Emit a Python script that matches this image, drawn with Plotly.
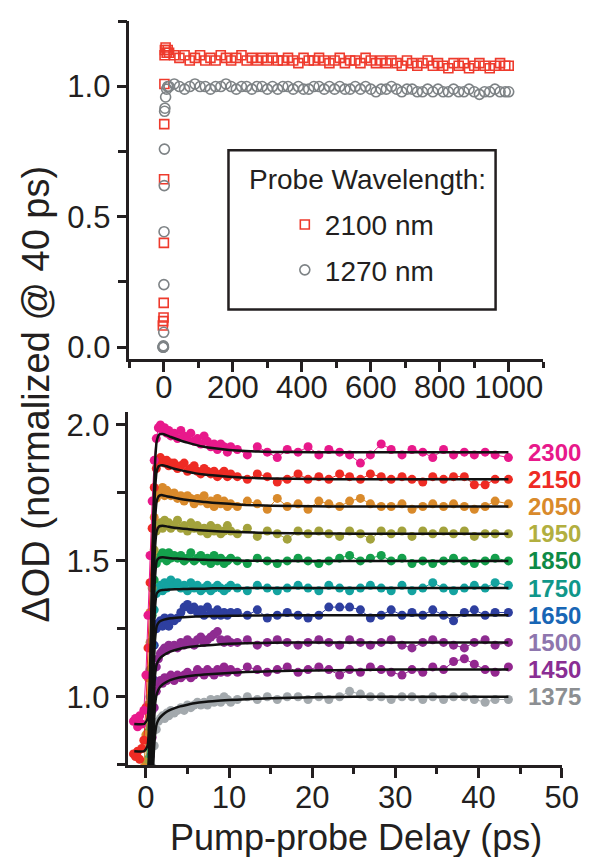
import plotly.graph_objects as go

FONT = "Liberation Sans, Arial, Helvetica, sans-serif"
INK = "#231F20"
OFF = 8                      # default page margin around the figure
W, H = 608 - 2 * OFF, 865 - 2 * OFF


def px(x):
    return (x - OFF) / W


def py(y):
    return 1 - (y - OFF) / H


# ---------------- top panel data (probe 2100 nm / 1270 nm, 0-1000 ps) ----------------
T_2100 = [-3, -2, -1, -0.5, 0, 0.5, 1, 1.5, 2, 3, 5, 8, 11,
          15, 30, 45, 60, 75, 90, 105, 120, 135, 150, 165, 180, 195, 210, 225, 240, 255, 270,
          285, 300, 315, 330, 345, 360, 375, 390, 405, 420, 435, 450, 465, 480, 495, 510, 525,
          540, 555, 570, 585, 600, 615, 630, 645, 660, 675, 690, 705, 720, 735, 750, 765, 780,
          795, 810, 825, 840, 855, 870, 885, 900, 915, 930, 945, 960, 975, 990, 1000]
V_2100 = [0.083, 0.10, 0.114, 0.17, 0.40, 0.644, 0.856, 1.01, 1.12, 1.14, 1.15, 1.13, 1.14,
          1.13, 1.12, 1.11, 1.12, 1.10, 1.11, 1.12, 1.10, 1.11, 1.10,
          1.12, 1.11, 1.10, 1.11, 1.12, 1.10, 1.11, 1.10, 1.11, 1.10,
          1.11, 1.10, 1.10, 1.11, 1.10, 1.09, 1.11, 1.10, 1.10, 1.11,
          1.10, 1.09, 1.10, 1.11, 1.09, 1.10, 1.10, 1.09, 1.11, 1.10,
          1.09, 1.10, 1.09, 1.10, 1.09, 1.08, 1.10, 1.09, 1.08, 1.09,
          1.10, 1.08, 1.09, 1.08, 1.07, 1.09, 1.08, 1.09, 1.07, 1.08,
          1.09, 1.08, 1.07, 1.08, 1.09, 1.08, 1.08]
T_1270 = [-3, -2, -1.5, -1, -0.5, 0, 0.5, 1, 1.5, 2, 3, 5, 8, 11,
          15, 30, 45, 60, 75, 90, 105, 120, 135, 150, 165, 180, 195, 210, 225, 240, 255, 270,
          285, 300, 315, 330, 345, 360, 375, 390, 405, 420, 435, 450, 465, 480, 495, 510, 525,
          540, 555, 570, 585, 600, 615, 630, 645, 660, 675, 690, 705, 720, 735, 750, 765, 780,
          795, 810, 825, 840, 855, 870, 885, 900, 915, 930, 945, 960, 975, 990, 1000]
V_1270 = [0.0, 0.0, 0.005, 0.0, 0.057, 0.24, 0.443, 0.62, 0.76, 0.905, 0.917, 0.96, 0.99, 1.00,
          1.00, 1.01, 1.00, 0.99, 1.00, 1.01, 1.00, 1.00, 0.99, 1.00,
          1.00, 1.01, 1.00, 0.99, 1.00, 1.00, 0.99, 1.00, 1.00, 0.99,
          1.00, 0.99, 1.00, 1.00, 0.99, 1.00, 0.99, 0.99, 1.00, 1.00,
          0.99, 1.00, 0.99, 1.00, 0.99, 0.99, 1.00, 0.99, 1.00, 0.99,
          0.98, 0.99, 0.99, 1.00, 0.99, 0.98, 0.99, 0.99, 0.98, 0.98,
          0.99, 0.98, 0.99, 0.98, 0.98, 0.99, 0.98, 0.98, 0.99, 0.98,
          0.97, 0.98, 0.98, 0.99, 0.98, 0.98, 0.98]

# ---------------- bottom panel data (offset kinetics, 0-44 ps) ----------------
T_DELAY = [-1.5, -1.25, -1.0, -0.75, -0.5, -0.25, 0.0, 0.25, 0.5, 0.75, 1.0, 1.25, 1.5, 1.75,
           2.0, 2.25, 2.5, 2.75, 3.0,
           3.4, 3.8, 4.2, 4.6, 5.0, 5.4, 5.8, 6.2, 6.6, 7.0, 7.4, 7.8, 8.2, 8.6, 9.0, 9.4, 9.8, 10.2,
           11.0, 12.2, 13.4, 14.6, 15.8, 17.0, 18.3, 19.5, 20.8, 22.0, 23.3, 24.5, 25.8, 27.0,
           28.3, 29.5, 30.8, 32.0, 33.3, 34.5, 35.8, 37.0, 38.3, 39.5, 40.8, 42.0, 43.6]

OD_2300 = [0.91, 0.92, 0.89, 0.93, 0.90, 0.95, 1.08, 1.30, 1.52, 1.72, 1.87, 1.95, 1.99, 2.00, 1.98, 1.99, 1.97, 1.98, 1.96,
           1.97, 1.95, 1.98, 1.96, 1.95, 1.97, 1.94, 1.95, 1.93, 1.96, 1.94, 1.92, 1.93, 1.91, 1.93, 1.92, 1.90, 1.92,
           1.91, 1.89, 1.92, 1.90, 1.88, 1.91, 1.90, 1.92, 1.89, 1.91, 1.90, 1.89, 1.86, 1.89, 1.93, 1.91, 1.89, 1.91,
           1.90, 1.88, 1.91, 1.89, 1.90, 1.89, 1.90, 1.89, 1.88]
OD_2150 = [0.79, 0.78, 0.80, 0.77, 0.81, 0.84, 0.96, 1.18, 1.42, 1.62, 1.77, 1.84, 1.87, 1.88, 1.87, 1.86, 1.87, 1.85, 1.86,
           1.86, 1.84, 1.85, 1.86, 1.83, 1.84, 1.85, 1.83, 1.82, 1.84, 1.83, 1.82, 1.83, 1.81, 1.82, 1.83, 1.81, 1.82,
           1.81, 1.80, 1.82, 1.81, 1.79, 1.80, 1.82, 1.80, 1.81, 1.80, 1.82, 1.81, 1.80, 1.82, 1.81, 1.80, 1.81, 1.80,
           1.79, 1.81, 1.80, 1.81, 1.81, 1.78, 1.78, 1.80, 1.80]
OD_2050 = [0.70, 0.70, 0.70, 0.70, 0.71, 0.74, 0.86, 1.07, 1.31, 1.52, 1.66, 1.73, 1.76, 1.75, 1.77, 1.74, 1.76, 1.75, 1.74,
           1.75, 1.73, 1.74, 1.72, 1.74, 1.73, 1.71, 1.73, 1.72, 1.74, 1.71, 1.72, 1.70, 1.73, 1.71, 1.72, 1.70, 1.71,
           1.70, 1.72, 1.71, 1.69, 1.73, 1.70, 1.71, 1.69, 1.72, 1.71, 1.70, 1.72, 1.73, 1.71, 1.70, 1.70, 1.71, 1.69,
           1.70, 1.71, 1.70, 1.71, 1.70, 1.69, 1.70, 1.72, 1.71]
OD_1950 = [0.60, 0.60, 0.60, 0.60, 0.61, 0.64, 0.76, 0.97, 1.20, 1.40, 1.54, 1.61, 1.63, 1.64, 1.62, 1.65, 1.63, 1.64, 1.62,
           1.63, 1.65, 1.62, 1.63, 1.61, 1.64, 1.62, 1.63, 1.61, 1.62, 1.60, 1.63, 1.61, 1.62, 1.60, 1.61, 1.63, 1.61,
           1.60, 1.62, 1.59, 1.61, 1.60, 1.58, 1.61, 1.60, 1.61, 1.60, 1.59, 1.61, 1.60, 1.58, 1.61, 1.60, 1.61, 1.59,
           1.61, 1.60, 1.61, 1.60, 1.61, 1.59, 1.60, 1.60, 1.60]
OD_1850 = [0.50, 0.50, 0.50, 0.50, 0.51, 0.54, 0.66, 0.87, 1.10, 1.30, 1.43, 1.49, 1.52, 1.51, 1.53, 1.52, 1.50, 1.53, 1.51,
           1.52, 1.51, 1.52, 1.50, 1.51, 1.53, 1.50, 1.51, 1.52, 1.50, 1.51, 1.49, 1.52, 1.50, 1.51, 1.49, 1.50, 1.51,
           1.50, 1.49, 1.51, 1.50, 1.49, 1.50, 1.51, 1.50, 1.49, 1.50, 1.51, 1.52, 1.50, 1.51, 1.52, 1.50, 1.51, 1.49,
           1.50, 1.49, 1.50, 1.51, 1.50, 1.49, 1.50, 1.51, 1.50]
OD_1750 = [0.40, 0.40, 0.40, 0.40, 0.41, 0.44, 0.56, 0.77, 1.00, 1.19, 1.32, 1.38, 1.40, 1.41, 1.39, 1.42, 1.40, 1.41, 1.43,
           1.41, 1.42, 1.40, 1.41, 1.39, 1.42, 1.40, 1.41, 1.39, 1.40, 1.41, 1.39, 1.40, 1.41, 1.40, 1.39, 1.40, 1.41,
           1.40, 1.39, 1.41, 1.40, 1.39, 1.40, 1.41, 1.40, 1.39, 1.41, 1.40, 1.39, 1.40, 1.41, 1.40, 1.39, 1.41, 1.39,
           1.40, 1.42, 1.40, 1.39, 1.40, 1.41, 1.40, 1.42, 1.41]
OD_1650 = [0.30, 0.30, 0.30, 0.30, 0.31, 0.34, 0.46, 0.67, 0.89, 1.07, 1.19, 1.25, 1.27, 1.28, 1.26, 1.29, 1.27, 1.26, 1.29,
           1.28, 1.29, 1.31, 1.33, 1.34, 1.32, 1.33, 1.31, 1.32, 1.30, 1.33, 1.31, 1.30, 1.32, 1.30, 1.31, 1.30, 1.31,
           1.31, 1.30, 1.32, 1.29, 1.30, 1.31, 1.30, 1.29, 1.30, 1.33, 1.33, 1.33, 1.32, 1.29, 1.30, 1.32, 1.30, 1.31,
           1.30, 1.32, 1.30, 1.28, 1.31, 1.32, 1.30, 1.31, 1.31]
OD_1500 = [0.20, 0.20, 0.20, 0.20, 0.21, 0.24, 0.36, 0.57, 0.78, 0.95, 1.06, 1.11, 1.14, 1.16, 1.17, 1.18, 1.17, 1.19, 1.18,
           1.19, 1.18, 1.20, 1.19, 1.21, 1.20, 1.19, 1.21, 1.22, 1.20, 1.21, 1.22, 1.23, 1.24, 1.21, 1.20, 1.21, 1.20,
           1.20, 1.21, 1.19, 1.20, 1.21, 1.20, 1.19, 1.20, 1.21, 1.20, 1.19, 1.21, 1.20, 1.19, 1.20, 1.21, 1.19, 1.18,
           1.20, 1.21, 1.20, 1.19, 1.18, 1.20, 1.21, 1.19, 1.20]
OD_1450 = [0.10, 0.10, 0.10, 0.10, 0.11, 0.14, 0.26, 0.47, 0.68, 0.85, 0.96, 1.02, 1.05, 1.06, 1.05, 1.07, 1.06, 1.07, 1.08,
           1.06, 1.08, 1.07, 1.08, 1.09, 1.07, 1.08, 1.10, 1.09, 1.08, 1.10, 1.09, 1.08, 1.10, 1.09, 1.11, 1.09, 1.10,
           1.09, 1.11, 1.10, 1.09, 1.10, 1.11, 1.09, 1.10, 1.11, 1.10, 1.08, 1.10, 1.09, 1.11, 1.10, 1.09, 1.08, 1.10,
           1.09, 1.11, 1.10, 1.13, 1.14, 1.12, 1.10, 1.09, 1.11]
OD_1375 = [0.00, 0.00, 0.00, 0.00, 0.01, 0.04, 0.16, 0.37, 0.58, 0.74, 0.82, 0.88, 0.91, 0.92, 0.93, 0.92, 0.94, 0.93, 0.95,
           0.94, 0.95, 0.96, 0.95, 0.97, 0.96, 0.97, 0.98, 0.97, 0.98, 0.97, 0.99, 0.98, 0.99, 0.98, 1.00, 0.99, 0.98,
           0.99, 1.00, 0.99, 1.00, 0.99, 1.00, 1.00, 0.99, 1.00, 0.99, 1.00, 1.02, 1.01, 1.00, 1.00, 0.99, 1.00, 1.00,
           0.99, 1.00, 0.99, 1.00, 1.00, 0.99, 0.98, 0.99, 0.99]

# fitted curves (black lines)
T_FIT = [-1.4, -0.2, 0.2, 0.5, 0.7, 0.9, 1.1, 1.3, 1.6, 2.0, 2.5, 3.0, 4.0, 5.0, 6.0, 7.0, 8.0,
         10.0, 12.0, 15.0, 20.0, 25.0, 30.0, 35.0, 40.0, 43.6]
FIT_2300 = [0.90, 0.90, 0.92, 1.10, 1.40, 1.68, 1.86, 1.94, 1.965, 1.967, 1.962, 1.956, 1.945, 1.935, 1.927,
            1.920, 1.915, 1.908, 1.904, 1.901, 1.900, 1.900, 1.900, 1.900, 1.900, 1.900]
FIT_2150 = [0.80, 0.80, 0.82, 1.00, 1.30, 1.58, 1.76, 1.83, 1.850, 1.852, 1.848, 1.843, 1.835, 1.828, 1.822,
            1.818, 1.815, 1.810, 1.806, 1.803, 1.801, 1.800, 1.800, 1.800, 1.800, 1.800]
FIT_2050 = [0.70, 0.70, 0.72, 0.90, 1.20, 1.48, 1.65, 1.72, 1.740, 1.742, 1.738, 1.735, 1.729, 1.724, 1.720,
            1.717, 1.714, 1.710, 1.706, 1.703, 1.701, 1.700, 1.700, 1.700, 1.700, 1.700]
FIT_1950 = [0.60, 0.60, 0.62, 0.80, 1.10, 1.38, 1.55, 1.61, 1.627, 1.629, 1.627, 1.624, 1.620, 1.617, 1.614,
            1.612, 1.610, 1.607, 1.605, 1.603, 1.601, 1.600, 1.600, 1.600, 1.600, 1.600]
FIT_1850 = [0.50, 0.50, 0.52, 0.70, 1.00, 1.28, 1.44, 1.50, 1.511, 1.513, 1.512, 1.510, 1.508, 1.506, 1.505,
            1.504, 1.503, 1.502, 1.501, 1.500, 1.500, 1.500, 1.500, 1.500, 1.500, 1.500]
FIT_1750 = [0.40, 0.40, 0.42, 0.60, 0.90, 1.17, 1.33, 1.38, 1.390, 1.393, 1.394, 1.395, 1.396, 1.397, 1.398,
            1.398, 1.399, 1.399, 1.400, 1.400, 1.400, 1.400, 1.400, 1.400, 1.400, 1.400]
FIT_1650 = [0.30, 0.30, 0.32, 0.50, 0.80, 1.06, 1.21, 1.26, 1.276, 1.282, 1.286, 1.289, 1.292, 1.294, 1.295,
            1.296, 1.297, 1.298, 1.299, 1.300, 1.300, 1.300, 1.300, 1.300, 1.300, 1.300]
FIT_1500 = [0.20, 0.20, 0.22, 0.40, 0.70, 0.95, 1.08, 1.12, 1.138, 1.150, 1.160, 1.167, 1.176, 1.182, 1.186,
            1.189, 1.191, 1.195, 1.197, 1.199, 1.200, 1.200, 1.200, 1.200, 1.200, 1.200]
FIT_1450 = [0.10, 0.10, 0.12, 0.30, 0.60, 0.84, 0.97, 1.01, 1.032, 1.045, 1.055, 1.062, 1.071, 1.076, 1.079,
            1.082, 1.084, 1.088, 1.091, 1.094, 1.097, 1.099, 1.100, 1.100, 1.100, 1.100]
FIT_1375 = [0.00, 0.00, 0.02, 0.20, 0.50, 0.76, 0.86, 0.90, 0.920, 0.933, 0.945, 0.953, 0.964, 0.971, 0.977,
            0.981, 0.984, 0.988, 0.991, 0.995, 0.998, 1.000, 1.000, 1.000, 1.000, 1.000]

LABELS = ["1375", "1450", "1500", "1650", "1750", "1850", "1950", "2050", "2150", "2300"]
LEVELS = [1.0, 1.1, 1.2, 1.3, 1.4, 1.5, 1.6, 1.7, 1.8, 1.9]
DATA = [OD_1375, OD_1450, OD_1500, OD_1650, OD_1750, OD_1850, OD_1950, OD_2050, OD_2150, OD_2300]
FITS = [FIT_1375, FIT_1450, FIT_1500, FIT_1650, FIT_1750, FIT_1850, FIT_1950, FIT_2050, FIT_2150, FIT_2300]
DOT_COLORS = ["#A3A9AD", "#93278F", "#8E2C91", "#2E3F9F", "#14A3A0", "#14A04C", "#A3A23C", "#D98A2B", "#EE2B24", "#E8198B"]
LABEL_COLORS = ["#8C8F92", "#8A2E94", "#8E76AE", "#1866B5", "#10978A", "#0E8A46", "#B2AF3F", "#D98A2B", "#EE2B24", "#E8198B"]

fig = go.Figure()

# top panel
fig.add_trace(go.Scatter(x=T_2100, y=V_2100, mode="markers", name="2100 nm", legendgroup="a",
                         marker=dict(symbol="square-open", size=9, color="#EE3A2C", line=dict(width=1.6)),
                         xaxis="x", yaxis="y"))
fig.add_trace(go.Scatter(x=T_1270, y=V_1270, mode="markers", name="1270 nm", legendgroup="b",
                         marker=dict(symbol="circle-open", size=10, color="#7E8386", line=dict(width=1.6)),
                         xaxis="x", yaxis="y"))

# bottom panel data
for vals, col in zip(DATA, DOT_COLORS):
    fig.add_trace(go.Scatter(x=T_DELAY, y=vals, mode="lines+markers", showlegend=False,
                             line=dict(color=col, width=1), marker=dict(size=9, color=col),
                             xaxis="x2", yaxis="y2"))
for vals in FITS:
    fig.add_trace(go.Scatter(x=T_FIT, y=vals, mode="lines", showlegend=False,
                             line=dict(color="#111111", width=2.5, shape="spline", smoothing=0.5),
                             xaxis="x2", yaxis="y2"))

axis_common = dict(showline=True, linecolor=INK, linewidth=2.5, ticks="outside", ticklen=10,
                   tickwidth=2.5, tickcolor=INK, showgrid=False, zeroline=False,
                   tickfont=dict(family=FONT, size=31, color=INK), tickmode="array")


def minor(vals, ln):
    return dict(ticks="outside", ticklen=ln, tickwidth=2.5, tickcolor=INK, tickmode="array",
                tickvals=vals, showgrid=False)


fig.update_layout(
    width=W, height=H, margin=dict(l=0, r=0, t=0, b=0),
    paper_bgcolor="white", plot_bgcolor="white",
    font=dict(family=FONT, color=INK),
    xaxis=dict(axis_common, domain=[px(133), px(559)], range=[-100, 1100], anchor="y",
               tickvals=[0, 200, 400, 600, 800, 1000], ticklabelstandoff=-11,
               minor=minor([-100, 100, 300, 500, 700, 900, 1100], 6)),
    yaxis=dict(axis_common, domain=[py(359), py(17)], range=[-0.045, 1.252], anchor="x",
               tickvals=[0, 0.5, 1.0], ticktext=["0.0", "0.5", "1.0"],
               minor=minor([0.25, 0.75, 1.25], 9)),
    xaxis2=dict(axis_common, domain=[px(132), px(578)], range=[-2.1, 50], anchor="y2",
                tickvals=[0, 10, 20, 30, 40, 50], ticklabelstandoff=-7,
                minor=minor([5, 15, 25, 35, 45], 6)),
    yaxis2=dict(axis_common, domain=[py(770), py(413)], range=[0.749, 2.047], anchor="x2",
                tickvals=[1.0, 1.5, 2.0], ticktext=["1.0", "1.5", "2.0"],
                minor=minor([0.75, 1.25, 1.75], 9)),
    legend=dict(x=px(293), y=py(198), xanchor="left", yanchor="top",
                bgcolor="rgba(0,0,0,0)", borderwidth=0, tracegroupgap=6,
                font=dict(family=FONT, size=28, color=INK)),
    showlegend=True,
)

# legend frame and title
fig.add_shape(type="rect", xref="paper", yref="paper",
              x0=px(235), x1=px(510), y0=py(309), y1=py(148),
              line=dict(color=INK, width=2.5), fillcolor="rgba(0,0,0,0)")
fig.add_annotation(text="Probe Wavelength:", xref="paper", yref="paper",
                   x=px(254), y=py(177), xanchor="left", yanchor="middle", showarrow=False,
                   font=dict(family=FONT, size=28, color=INK))

# axis titles
fig.add_annotation(text="ΔOD (normalized @ 40 ps)", xref="paper", yref="paper",
                   x=px(37), y=py(395), textangle=-90, showarrow=False,
                   xanchor="center", yanchor="middle", font=dict(family=FONT, size=38, color=INK))
fig.add_annotation(text="Pump-probe Delay (ps)", xref="paper", yref="paper",
                   x=px(366), y=py(843), showarrow=False,
                   xanchor="center", yanchor="middle", font=dict(family=FONT, size=36, color=INK))

# wavelength labels
for lab, lev, col in zip(LABELS, LEVELS, LABEL_COLORS):
    fig.add_annotation(text="<b>%s</b>" % lab, xref="paper", yref="y2", x=px(541), y=lev,
                       xanchor="left", yanchor="middle", showarrow=False,
                       font=dict(family=FONT, size=24, color=col))

fig.write_html("out.html")
